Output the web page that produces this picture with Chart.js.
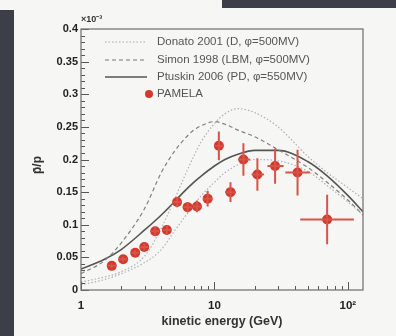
<!DOCTYPE html>
<html><head><meta charset="utf-8">
<script src="https://cdn.jsdelivr.net/npm/chart.js@4.4.1/dist/chart.umd.min.js"></script>
<style>
html,body{margin:0;padding:0;background:#f6f6f5;}
#wrap{position:relative;width:396px;height:336px;overflow:hidden;background:#f6f6f5;}
.dk{position:absolute;background:#3c3f47;}
canvas{position:absolute;left:0;top:0;filter:blur(0.45px);}
</style></head><body>
<div id="wrap">
<div class="dk" style="left:0;top:10px;width:14px;height:326px"></div>
<div class="dk" style="left:222px;top:0;width:174px;height:8px"></div>
<canvas id="c" width="396" height="336"></canvas>
</div>
<script>
// PAMELA data
const energy   = [1.7, 2.07, 2.55, 2.98, 3.6, 4.4, 5.25, 6.3, 7.4, 8.9, 10.8, 13.2, 16.5, 21, 28.5, 42, 70];
const energyLo = [1.58, 1.93, 2.38, 2.78, 3.35, 4.1, 4.9, 5.9, 6.9, 8.2, 10.0, 12.0, 15.0, 19.0, 25.0, 34.0, 44.0];
const energyHi = [1.83, 2.22, 2.73, 3.2, 3.87, 4.72, 5.65, 6.75, 7.95, 9.7, 11.8, 14.5, 18.5, 23.5, 33.0, 52.0, 111.0];
const ratio    = [0.037, 0.047, 0.057, 0.066, 0.09, 0.092, 0.135, 0.127, 0.128, 0.14, 0.221, 0.15, 0.2, 0.177, 0.19, 0.18, 0.108];
const ratioErr = [0.004, 0.004, 0.004, 0.005, 0.006, 0.006, 0.008, 0.008, 0.009, 0.012, 0.022, 0.015, 0.025, 0.025, 0.027, 0.035, 0.038];

// model curves
const modelEnergy = [1, 1.5, 2, 3, 4, 5, 6, 7, 8, 10, 12, 15, 20, 30, 50, 70, 100, 130];
const donatoUpper = [0.012, 0.02, 0.028, 0.052, 0.095, 0.138, 0.175, 0.205, 0.228, 0.255, 0.27, 0.278, 0.272, 0.25, 0.205, 0.18, 0.157, 0.14];
const donatoLower = [0.008, 0.016, 0.025, 0.042, 0.062, 0.09, 0.112, 0.13, 0.145, 0.165, 0.18, 0.192, 0.2, 0.198, 0.182, 0.16, 0.135, 0.115];
const simon       = [0.025, 0.045, 0.072, 0.125, 0.18, 0.212, 0.232, 0.245, 0.252, 0.258, 0.254, 0.245, 0.235, 0.215, 0.188, 0.165, 0.138, 0.115];
const ptuskin     = [0.032, 0.047, 0.062, 0.092, 0.115, 0.135, 0.152, 0.165, 0.175, 0.19, 0.2, 0.208, 0.214, 0.214, 0.197, 0.175, 0.145, 0.12];

// ticks & labels
const xTickValues = [1, 10, 100];
const xTickLabels = ['1', '10', '10²'];
const yTickValues = [0, 0.05, 0.1, 0.15, 0.2, 0.25, 0.3, 0.35, 0.4];
const yTickLabels = ['0', '0.05', '0.1', '0.15', '0.2', '0.25', '0.3', '0.35', '0.4'];
const legendLabels = ['Donato 2001 (D, φ=500MV)', 'Simon 1998 (LBM, φ=500MV)', 'Ptuskin 2006 (PD, φ=550MV)', 'PAMELA'];
const xTitle = 'kinetic energy (GeV)';
const yTitle = 'p̄/p';
const yExponent = '×10⁻³';

const pts = (xs, ys) => xs.map((x, i) => ({x: x, y: ys[i]}));
const FONT = '"Liberation Sans", Arial, sans-serif';
const RED = '#d23a2e';

const lineDs = (label, ys, color, dash, width) => ({
  label, data: pts(modelEnergy, ys), showLine: true, borderColor: color, borderWidth: width,
  borderDash: dash, pointRadius: 0, fill: false, cubicInterpolationMode: 'monotone'
});

const errPlugin = {
  id: 'errbars',
  afterDatasetsDraw(chart) {
    const ctx = chart.ctx, xs = chart.scales.x, ys = chart.scales.y;
    ctx.save();
    ctx.strokeStyle = '#d65448';
    ctx.lineWidth = 2;
    energy.forEach((e, i) => {
      const px = xs.getPixelForValue(e), py = ys.getPixelForValue(ratio[i]);
      ctx.beginPath();
      ctx.moveTo(px, ys.getPixelForValue(ratio[i] - ratioErr[i]));
      ctx.lineTo(px, ys.getPixelForValue(ratio[i] + ratioErr[i]));
      ctx.moveTo(xs.getPixelForValue(energyLo[i]), py);
      ctx.lineTo(xs.getPixelForValue(energyHi[i]), py);
      ctx.stroke();
    });
    ctx.restore();
  }
};

const framePlugin = {
  id: 'frame',
  afterDraw(chart) {
    const ctx = chart.ctx, a = chart.chartArea, xs = chart.scales.x, ys = chart.scales.y;
    ctx.save();
    ctx.strokeStyle = '#555';
    ctx.lineWidth = 1;
    ctx.beginPath();
    for (let k = 0; k <= 40; k++) {
      const v = k / 100;
      const py = Math.round(ys.getPixelForValue(v)) + 0.5;
      const len = (k % 5 === 0) ? 8 : 4;
      ctx.moveTo(a.left, py); ctx.lineTo(a.left + len, py);
    }
    for (let dec = 1; dec <= 100; dec *= 10) {
      for (let m = 1; m <= 9; m++) {
        const v = dec * m;
        if (v > xs.max) break;
        const px = Math.round(xs.getPixelForValue(v)) + 0.5;
        const len = (m === 1) ? 8 : 4;
        ctx.moveTo(px, a.bottom); ctx.lineTo(px, a.bottom - len);
      }
    }
    ctx.stroke();
    ctx.strokeStyle = '#777';
    ctx.lineWidth = 1.3;
    ctx.strokeRect(a.left, a.top, a.right - a.left, a.bottom - a.top);
    // legend
    const rowsY = [42, 60, 77, 94];
    const styles = [
      {c: '#a8a8a8', d: [1.5, 2], w: 1.2},
      {c: '#777', d: [4, 3], w: 1.2},
      {c: '#555', d: [], w: 1.6},
    ];
    ctx.font = '11.5px ' + FONT;
    ctx.textBaseline = 'middle';
    ctx.textAlign = 'left';
    rowsY.forEach((y, i) => {
      if (i < 3) {
        ctx.strokeStyle = styles[i].c; ctx.lineWidth = styles[i].w; ctx.setLineDash(styles[i].d);
        ctx.beginPath(); ctx.moveTo(105, y); ctx.lineTo(147, y); ctx.stroke();
        ctx.setLineDash([]);
      } else {
        ctx.fillStyle = RED;
        ctx.beginPath(); ctx.arc(149, y, 4, 0, Math.PI * 2); ctx.fill();
      }
      ctx.fillStyle = '#555';
      ctx.fillText(legendLabels[i], 157, y);
    });
    // titles
    ctx.fillStyle = '#333';
    ctx.font = 'bold 12.5px ' + FONT;
    ctx.textAlign = 'center';
    ctx.fillText(xTitle, (a.left + a.right) / 2, 322);
    ctx.save();
    ctx.translate(38, 165);
    ctx.rotate(-Math.PI / 2);
    ctx.font = 'bold 12px ' + FONT;
    ctx.fillText(yTitle, 0, 0);
    ctx.restore();
    ctx.font = 'bold 9px ' + FONT;
    ctx.textAlign = 'left';
    ctx.fillText(yExponent, 81, 20);
    ctx.restore();
  }
};

new Chart(document.getElementById('c'), {
  type: 'scatter',
  data: {
    datasets: [
      {label: 'PAMELA', data: pts(energy, ratio), pointRadius: 5, pointBackgroundColor: RED, pointBorderWidth: 0, showLine: false, order: 0},
      lineDs('Donato 2001 upper', donatoUpper, '#b0b0b0', [1.5, 2], 1.2),
      lineDs('Donato 2001 lower', donatoLower, '#aab2ba', [1.5, 2], 1.2),
      lineDs('Simon 1998', simon, '#808080', [4, 3], 1.2),
      lineDs('Ptuskin 2006', ptuskin, '#555', [], 1.6),
    ]
  },
  options: {
    responsive: false,
    animation: false,
    devicePixelRatio: 1,
    layout: {padding: {left: 0, top: 29, right: 33, bottom: 0}},
    plugins: {legend: {display: false}, tooltip: {enabled: false}},
    scales: {
      x: {
        type: 'logarithmic', min: 1, max: 130,
        grid: {display: false, drawTicks: false}, border: {display: false},
        afterBuildTicks: s => { s.ticks = xTickValues.map(v => ({value: v})); },
        afterFit: s => { s.height = 46; },
        ticks: {
          autoSkip: false, maxRotation: 0, padding: 9, color: '#222',
          font: {family: FONT, size: 11.5, weight: 'bold'},
          callback: v => { const i = xTickValues.indexOf(v); return i >= 0 ? xTickLabels[i] : ''; }
        }
      },
      y: {
        min: 0, max: 0.4,
        grid: {display: false, drawTicks: false}, border: {display: false},
        afterBuildTicks: s => { s.ticks = yTickValues.map(v => ({value: v})); },
        afterFit: s => { s.width = 81; },
        ticks: {
          padding: 3, color: '#222',
          font: {family: FONT, size: 11, weight: 'bold'},
          callback: v => { const i = yTickValues.findIndex(t => Math.abs(t - v) < 1e-9); return i >= 0 ? yTickLabels[i] : ''; }
        }
      }
    }
  },
  plugins: [errPlugin, framePlugin]
});
</script>
</body></html>
